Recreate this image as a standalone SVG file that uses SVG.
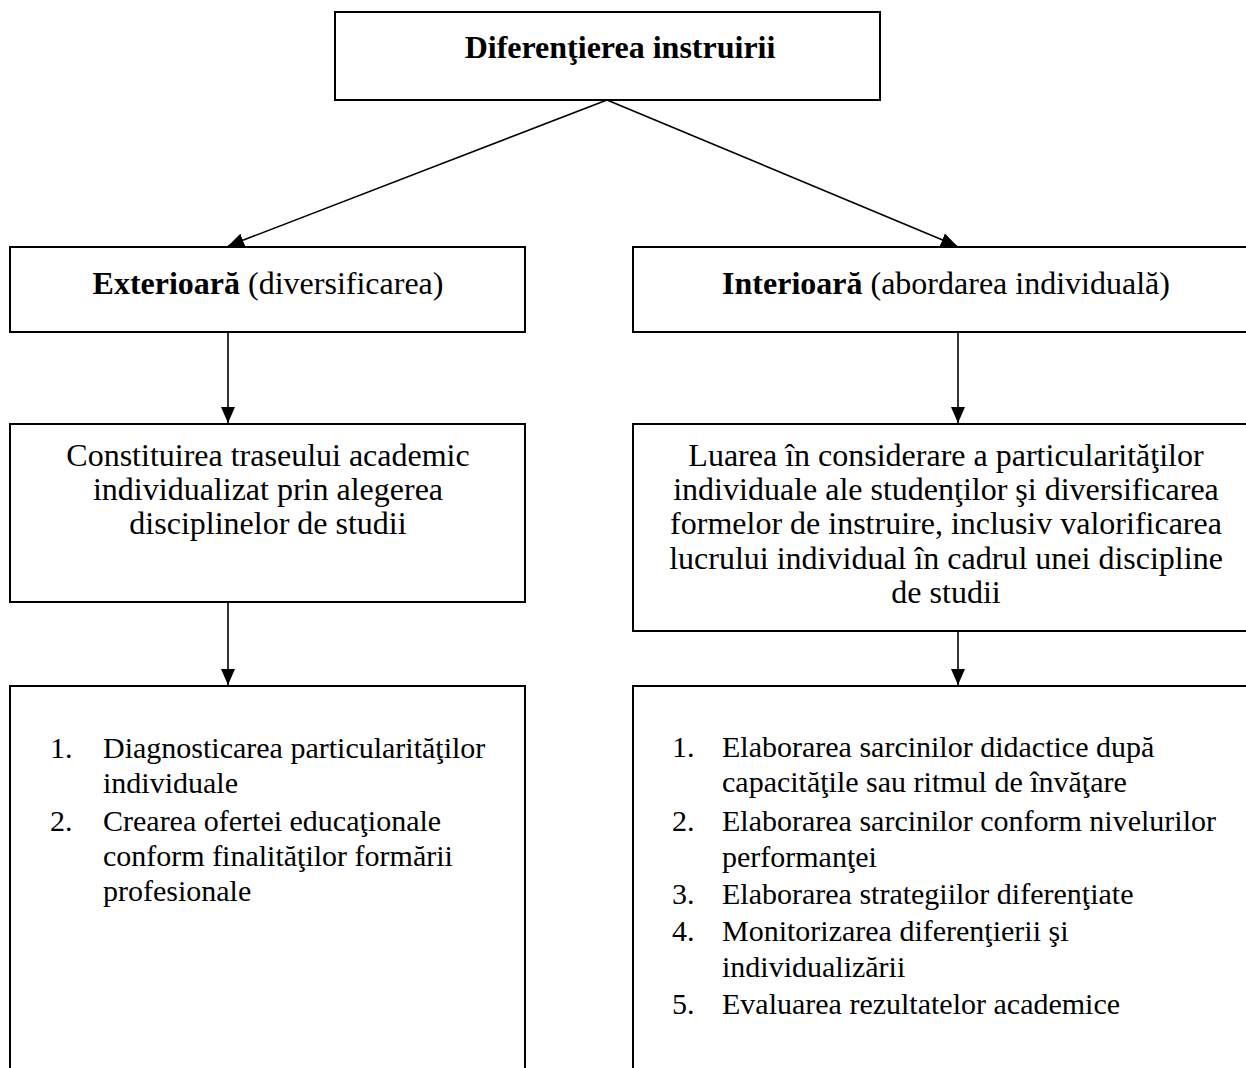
<svg xmlns="http://www.w3.org/2000/svg" width="1246" height="1068" viewBox="0 0 1246 1068">
<style>
.box{fill:#fff;stroke:#000;stroke-width:2}
.t{font-family:"Liberation Serif","Times New Roman",serif;font-size:32px;fill:#000}
.l{font-size:30px}
.c{text-anchor:middle}
.b{font-weight:bold}
.ln{stroke:#000;stroke-width:1.6;fill:none}
</style>
<defs>
<marker id="ah" markerWidth="16" markerHeight="14" refX="16" refY="7" orient="auto" markerUnits="userSpaceOnUse">
<path d="M0,0 L16,7 L0,14 Z" fill="#000"/>
</marker>
</defs>
<rect width="1246" height="1068" fill="#fff"/>
<g id="root">
<rect class="box" x="335" y="12" width="545" height="88"/>
<text class="t c b" x="620" y="58">Diferenţierea instruirii</text>
</g>
<g id="exterioara">
<rect class="box" x="10" y="247" width="515" height="85"/>
<text class="t c" x="268" y="294"><tspan class="b">Exterioară</tspan> (diversificarea)</text>
</g>
<g id="interioara">
<rect class="box" x="633" y="247" width="620" height="85"/>
<text class="t c" x="946" y="294"><tspan class="b">Interioară</tspan> (abordarea individuală)</text>
</g>
<g id="ext-desc">
<rect class="box" x="10" y="424" width="515" height="178"/>
<text class="t c" x="268" y="466">Constituirea traseului academic</text>
<text class="t c" x="268" y="500">individualizat prin alegerea</text>
<text class="t c" x="268" y="534">disciplinelor de studii</text>
</g>
<g id="int-desc">
<rect class="box" x="633" y="424" width="620" height="207"/>
<text class="t c" x="946" y="466">Luarea în considerare a particularităţilor</text>
<text class="t c" x="946" y="500">individuale ale studenţilor şi diversificarea</text>
<text class="t c" x="946" y="534">formelor de instruire, inclusiv valorificarea</text>
<text class="t c" x="946" y="569">lucrului individual în cadrul unei discipline</text>
<text class="t c" x="946" y="603">de studii</text>
</g>
<g id="ext-list">
<rect class="box" x="10" y="686" width="515" height="400"/>
<text class="t l" x="50" y="758">1.</text>
<text class="t l" x="103" y="758">Diagnosticarea particularităţilor</text>
<text class="t l" x="103" y="793">individuale</text>
<text class="t l" x="50" y="831">2.</text>
<text class="t l" x="103" y="831">Crearea ofertei educaţionale</text>
<text class="t l" x="103" y="866">conform finalităţilor formării</text>
<text class="t l" x="103" y="901">profesionale</text>
</g>
<g id="int-list">
<rect class="box" x="633" y="686" width="620" height="400"/>
<text class="t l" x="672" y="757">1.</text>
<text class="t l" x="722" y="757">Elaborarea sarcinilor didactice după</text>
<text class="t l" x="722" y="792">capacităţile sau ritmul de învăţare</text>
<text class="t l" x="672" y="831">2.</text>
<text class="t l" x="722" y="831">Elaborarea sarcinilor conform nivelurilor</text>
<text class="t l" x="722" y="867">performanţei</text>
<text class="t l" x="672" y="904">3.</text>
<text class="t l" x="722" y="904">Elaborarea strategiilor diferenţiate</text>
<text class="t l" x="672" y="941">4.</text>
<text class="t l" x="722" y="941">Monitorizarea diferenţierii şi</text>
<text class="t l" x="722" y="977">individualizării</text>
<text class="t l" x="672" y="1014">5.</text>
<text class="t l" x="722" y="1014">Evaluarea rezultatelor academice</text>
</g>
<g id="connectors">
<line class="ln" x1="607" y1="100" x2="228" y2="246" marker-end="url(#ah)"/>
<line class="ln" x1="607" y1="100" x2="957" y2="246" marker-end="url(#ah)"/>
<line class="ln" x1="228" y1="333" x2="228" y2="423" marker-end="url(#ah)"/>
<line class="ln" x1="958" y1="333" x2="958" y2="423" marker-end="url(#ah)"/>
<line class="ln" x1="228" y1="603" x2="228" y2="685" marker-end="url(#ah)"/>
<line class="ln" x1="958" y1="632" x2="958" y2="685" marker-end="url(#ah)"/>
</g>
</svg>
